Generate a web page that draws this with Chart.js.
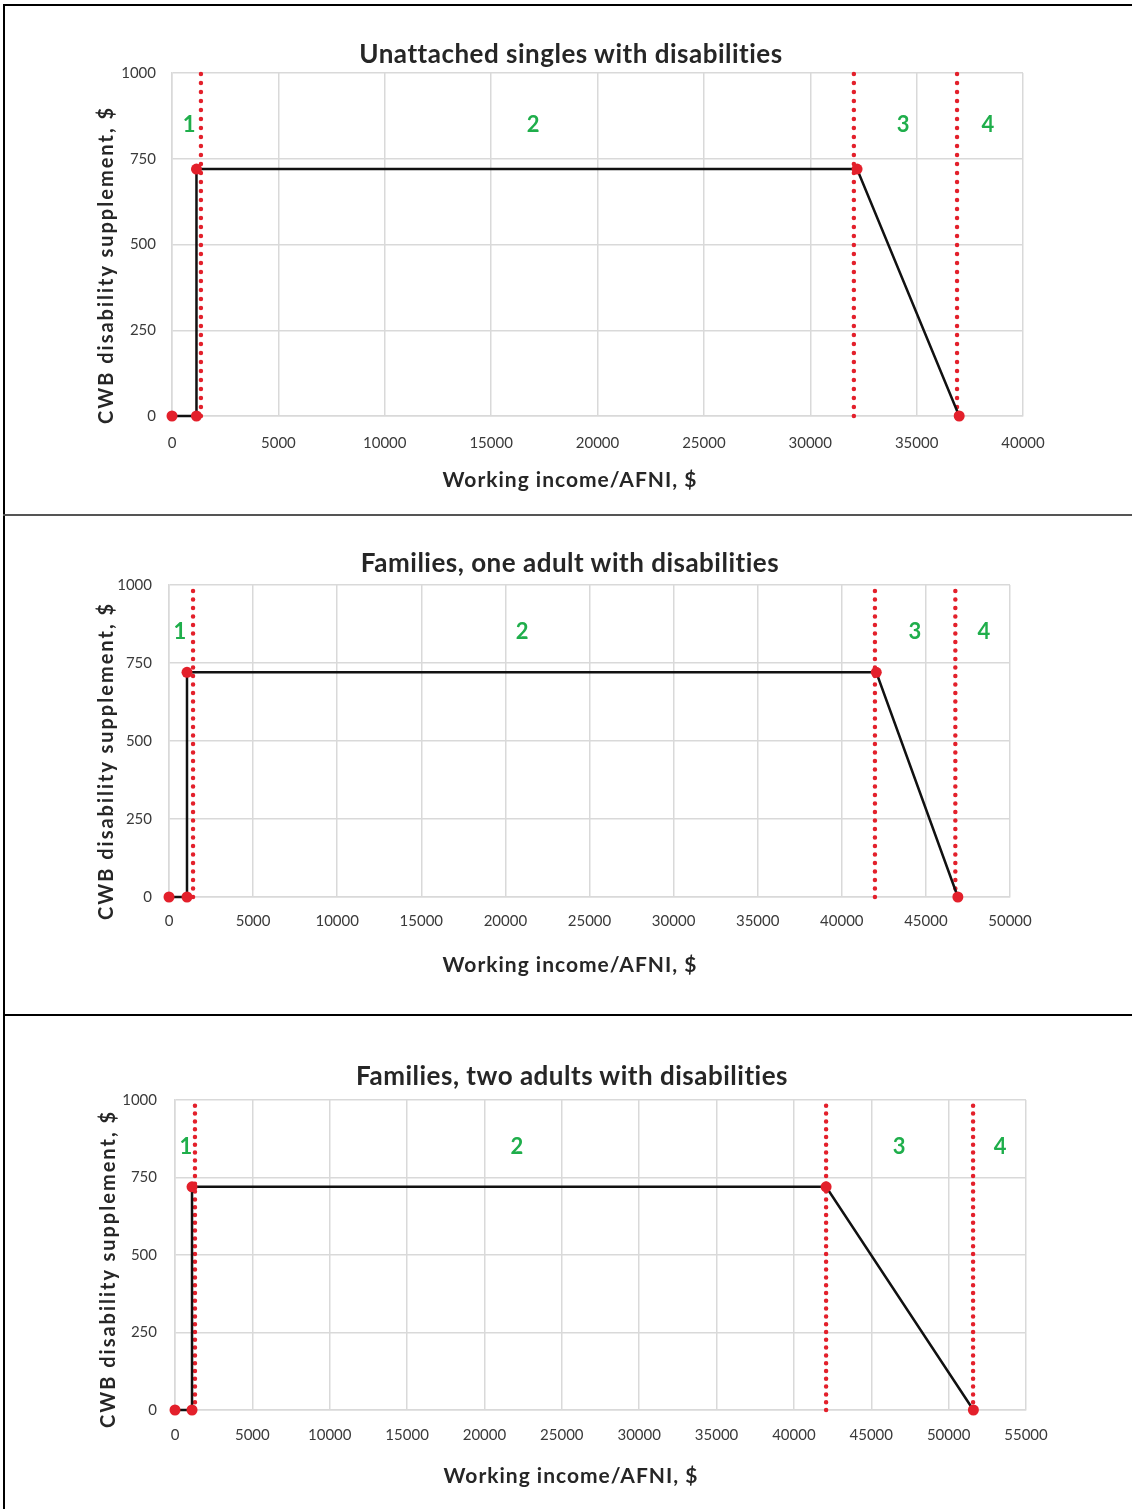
<!DOCTYPE html>
<html>
<head>
<meta charset="utf-8">
<script src="https://cdn.jsdelivr.net/npm/chart.js@4.4.1/dist/chart.umd.min.js"></script>
<style>
  html, body { margin: 0; padding: 0; background: #fff; }
  body { width: 1132px; height: 1509px; position: relative; overflow: hidden; font-family: Lato, "Open Sans", sans-serif; color: #262626; }
  .panel { position: absolute; left: 0; width: 1132px; }
  .rule { position: absolute; background: #000; }
  .lbl { position: absolute; white-space: nowrap; font-weight: bold; line-height: 1; }
  .ttl { font-size: 26px; letter-spacing: 0.5px; }
  .xt { font-size: 21px; letter-spacing: 1px; }
  .yt { font-size: 20px; letter-spacing: 2px; }
</style>
</head>
<body>
<div class="rule" style="left:3px;top:4px;width:1129px;height:2px"></div>
<div class="rule" style="left:3px;top:4px;width:2px;height:1505px"></div>
<div class="rule" style="left:3px;top:514px;width:1129px;height:2px;background:#555"></div>
<div class="rule" style="left:3px;top:1014px;width:1129px;height:2px"></div>

<div class="panel" style="top:6px;height:508px"><canvas id="chart1"></canvas></div>
<div class="panel" style="top:516px;height:498px"><canvas id="chart2"></canvas></div>
<div class="panel" style="top:1016px;height:493px"><canvas id="chart3"></canvas></div>

<script>
// --- data ---
const zoneLabels = ['1', '2', '3', '4'];
const yTicks = [0, 250, 500, 750, 1000];
const xTickStep = 5000;
const xAxisTitle = 'Working income/AFNI, $';
const yAxisTitle = 'CWB disability supplement, $';

// Unattached singles with disabilities
const singlesIncome = [0, 1150, 1150, 32200, 37000];
const singlesSupplement = [0, 0, 720, 720, 0];
const singlesBounds = [1360, 32050, 36900];
const singlesZoneAt = [800, 16970, 34360, 38350];
const singlesMaxX = 40000;

// Families, one adult with disabilities
const oneAdultIncome = [0, 1070, 1070, 42050, 46900];
const oneAdultSupplement = [0, 0, 720, 720, 0];
const oneAdultBounds = [1430, 41970, 46750];
const oneAdultZoneAt = [650, 20990, 44350, 48450];
const oneAdultMaxX = 50000;

// Families, two adults with disabilities
const twoAdultsIncome = [0, 1100, 1100, 42080, 51600];
const twoAdultsSupplement = [0, 0, 720, 720, 0];
const twoAdultsBounds = [1290, 42080, 51580];
const twoAdultsZoneAt = [710, 22100, 46800, 53330];
const twoAdultsMaxX = 55000;

const zoneLabelLevel = 850;

const FONT = 'Lato, "Open Sans", sans-serif';
const RED = '#e3202b';
const GREEN = '#1fae4b';
const GRID = '#d9d9d9';

// region numbers drawn at data positions through the chart scales
const zonePlugin = {
    id: 'zones',
    afterDatasetsDraw(chart, args, opts) {
        const ctx = chart.ctx;
        const xs = chart.scales.x, ys = chart.scales.y;
        ctx.save();
        ctx.font = 'bold 22px ' + FONT;
        ctx.fillStyle = GREEN;
        ctx.textAlign = 'center';
        ctx.textBaseline = 'middle';
        opts.positions.forEach(function(p, i) {
            ctx.fillText(zoneLabels[i], xs.getPixelForValue(p), ys.getPixelForValue(zoneLabelLevel));
        });
        ctx.restore();
    }
};

function addLabel(text, cls, x, y, rotate) {
    const el = document.createElement('div');
    el.className = 'lbl ' + cls;
    el.textContent = text;
    el.style.left = x + 'px';
    el.style.top = y + 'px';
    el.style.transform = 'translate(-50%, -50%)' + (rotate ? ' rotate(-90deg)' : '');
    document.body.appendChild(el);
}

function makeChart(id, box, title, income, supplement, bounds, zoneAt, maxX) {
    // box: page coordinates of the plot frame and text; panelTop = canvas offset
    const top = box.top - box.panelTop;
    const bottom = box.bottom - box.panelTop;
    const tickY = box.tickY - box.panelTop;
    const tickLH = 15 * 1.2;

    addLabel(title, 'ttl', box.titleX, box.titleY, false);
    addLabel(xAxisTitle, 'xt', box.xTitleX, box.xTitleY, false);
    addLabel(yAxisTitle, 'yt', box.yTitleX, box.yTitleY, true);

    const datasets = [{
        label: 'supplement',
        data: income.map(function(x, i) { return { x: x, y: supplement[i] }; }),
        borderColor: '#111',
        borderWidth: 2.5,
        pointRadius: 5.5,
        pointBackgroundColor: RED,
        pointBorderColor: RED,
        pointBorderWidth: 0,
        tension: 0,
        clip: false,
        order: 0
    }];
    bounds.forEach(function(b) {
        datasets.push({
            label: 'bound',
            data: [{ x: b, y: 0 }, { x: b, y: 1000 }],
            borderColor: RED,
            borderWidth: 4.5,
            borderDash: [0, box.dotGap],
            borderCapStyle: 'round',
            pointRadius: 0,
            clip: false,
            order: 1
        });
    });

    return new Chart(document.getElementById(id), {
        type: 'line',
        data: { datasets: datasets },
        plugins: [zonePlugin],
        options: {
            responsive: true,
            maintainAspectRatio: false,
            animation: false,
            events: [],
            layout: { padding: { left: 0, top: top, bottom: 0, right: 1132 - box.right } },
            scales: {
                x: {
                    type: 'linear',
                    min: 0,
                    max: maxX,
                    afterFit: function(scale) { scale.height = box.height - bottom; },
                    grid: { color: GRID, lineWidth: 1.5, drawTicks: false },
                    border: { color: GRID, width: 1.5 },
                    ticks: {
                        stepSize: xTickStep,
                        padding: tickY - bottom - tickLH / 2,
                        color: '#3a3a3a',
                        font: { family: FONT, size: 15 },
                        maxRotation: 0,
                        callback: function(v) { return String(v); }
                    }
                },
                y: {
                    min: 0,
                    max: 1000,
                    afterFit: function(scale) { scale.width = box.left; },
                    afterBuildTicks: function(scale) { scale.ticks = yTicks.map(function(v) { return { value: v }; }); },
                    grid: { color: GRID, lineWidth: 1.5, drawTicks: false },
                    border: { color: GRID, width: 1.5 },
                    ticks: {
                        padding: box.left - box.yTickRight,
                        color: '#3a3a3a',
                        font: { family: FONT, size: 15 },
                        callback: function(v) { return String(v); }
                    }
                }
            },
            plugins: {
                legend: { display: false },
                tooltip: { enabled: false },
                zones: { positions: zoneAt }
            }
        }
    });
}

makeChart('chart1',
    { panelTop: 6, height: 508, left: 172, right: 1023, top: 73, bottom: 416, tickY: 443, yTickRight: 156, dotGap: 9,
      titleX: 571, titleY: 53, xTitleX: 570, xTitleY: 478, yTitleX: 105, yTitleY: 265 },
    'Unattached singles with disabilities',
    singlesIncome, singlesSupplement, singlesBounds, singlesZoneAt, singlesMaxX);

makeChart('chart2',
    { panelTop: 516, height: 498, left: 169, right: 1010, top: 585, bottom: 897, tickY: 921, yTickRight: 152, dotGap: 8.5,
      titleX: 570, titleY: 562, xTitleX: 570, xTitleY: 963, yTitleX: 105, yTitleY: 761 },
    'Families, one adult with disabilities',
    oneAdultIncome, oneAdultSupplement, oneAdultBounds, oneAdultZoneAt, oneAdultMaxX);

makeChart('chart3',
    { panelTop: 1016, height: 493, left: 175, right: 1026, top: 1100, bottom: 1410, tickY: 1435, yTickRight: 157, dotGap: 7.8,
      titleX: 572, titleY: 1075, xTitleX: 571, xTitleY: 1474, yTitleX: 107, yTitleY: 1269 },
    'Families, two adults with disabilities',
    twoAdultsIncome, twoAdultsSupplement, twoAdultsBounds, twoAdultsZoneAt, twoAdultsMaxX);
</script>
</body>
</html>
